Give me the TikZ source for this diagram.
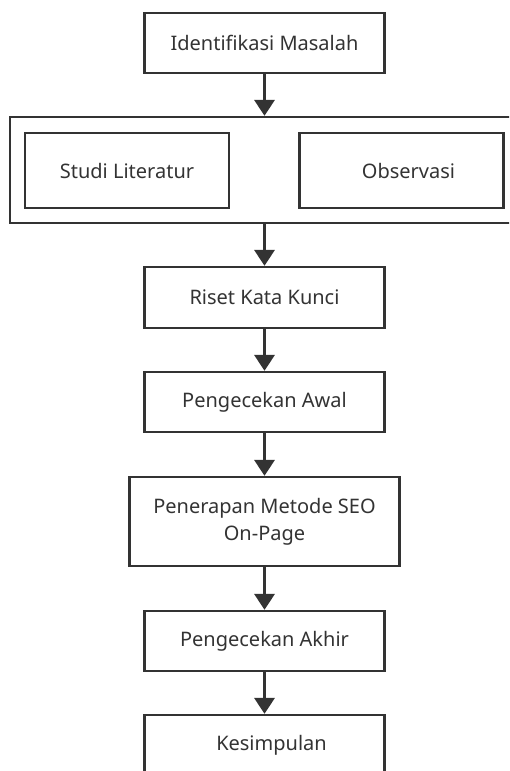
\documentclass[tikz,border=0pt]{standalone}
\usepackage{fontspec}
\setmainfont{Noto Sans}
\usetikzlibrary{arrows.meta}
\definecolor{ink}{HTML}{333333}

\begin{document}
\begin{tikzpicture}[x=1pt,y=-1pt,
  every node/.style={font=\fontsize{20}{27}\selectfont,text=ink},
  box/.style={draw=ink,line width=2.3pt,minimum width=240pt,minimum height=60pt,inner sep=0pt,align=center},
  flow/.style={draw=ink,line width=3.4pt,-{Triangle[width=20pt,length=16pt]}}]
\useasboundingbox (0,0) rectangle (509,771);
\clip (0,0) rectangle (509,771);
\node[box] (ident) at (264.5,43) {Identifikasi Masalah};
\node[box,minimum width=509pt,minimum height=106pt] (group) at (264.5,170) {};
\node[box,minimum width=204pt,minimum height=75pt] (studi) at (127,170.5) {Studi Literatur};
\node[box,minimum width=204pt,minimum height=75pt] (obs) at (401.5,170.5) {\hspace*{14pt}Observasi};
\node[box,minimum height=61pt] (riset) at (264.5,297.5) {Riset Kata Kunci};
\node[box] (awal) at (264.5,402) {Pengecekan Awal};
\node[box,minimum width=270pt,minimum height=89pt] (seo) at (264.5,521.5) {Penerapan Metode SEO\\On-Page};
\node[box] (akhir) at (264.5,641) {Pengecekan Akhir};
\node[box] (simpul) at (264.5,745) {\hspace*{14pt}Kesimpulan};

\draw[flow] (ident) -- (group);
\draw[flow] (group) -- (riset);
\draw[flow] (riset) -- (awal);
\draw[flow] (awal) -- (seo);
\draw[flow] (seo) -- (akhir);
\draw[flow] (akhir) -- (simpul);
\end{tikzpicture}
\end{document}
